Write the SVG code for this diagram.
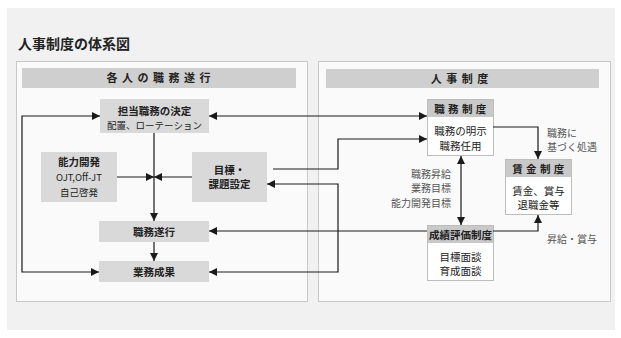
<svg xmlns="http://www.w3.org/2000/svg" width="621" height="338" viewBox="0 0 621 338">
<defs>
<marker id="arr" viewBox="0 0 10 10" refX="10" refY="5" markerWidth="8" markerHeight="9" markerUnits="userSpaceOnUse" orient="auto-start-reverse">
<path d="M0,0 L10,5 L0,10 z" fill="#1a1a1a"/>
</marker>
<style>
text{font-family:"Noto Sans CJK JP","Noto Sans",sans-serif;fill:#222;}
.b{font-weight:bold;}
.t{font-size:10.5px;text-anchor:middle;}
.s{font-size:9.5px;text-anchor:middle;}
.lbl{font-size:10px;fill:#555;}
.node{fill:#d9d9d9;}
.hdr{fill:#cfcfcf;}
.wbody{fill:#fff;stroke:#bdbdbd;stroke-width:1;}
.nhdr{fill:#c9c9c9;}
.ln{fill:none;stroke:#1a1a1a;stroke-width:1.2;}
.panel{fill:#fafafa;stroke:#c8c8c8;stroke-width:1;}
</style>
</defs>
<rect x="0" y="0" width="621" height="338" fill="#fff"/>
<rect x="7" y="8" width="608" height="322" fill="#f1f1f1"/>
<text x="18" y="49" class="b" style="font-size:14px;">人事制度の体系図</text>

<g id="panel-left">
<rect class="panel" x="16.5" y="61.5" width="291" height="240"/>
<rect class="hdr" x="22" y="68" width="274" height="20"/>
<text x="159" y="82" class="b" style="font-size:11px;text-anchor:middle;letter-spacing:1px;">各 人 の 職 務 遂 行</text>
</g>
<g id="panel-right">
<rect class="panel" x="318.5" y="61.5" width="292" height="240"/>
<rect class="hdr" x="326" y="69" width="273" height="19"/>
<text x="460" y="83" class="b" style="font-size:11px;text-anchor:middle;letter-spacing:1px;">人 事 制 度</text>
</g>

<g id="n-tanto">
<rect class="node" x="100" y="99" width="109" height="34"/>
<text x="154.5" y="115" class="t b">担当職務の決定</text>
<text x="154.5" y="128.5" class="s">配置、ローテーション</text>
</g>
<g id="n-noryoku">
<rect class="node" x="41" y="152" width="76" height="50"/>
<text x="79" y="166" class="t b">能力開発</text>
<text x="79" y="181" class="s">OJT,Off-JT</text>
<text x="79" y="196" class="s">自己啓発</text>
</g>
<g id="n-mokuhyo">
<rect class="node" x="192" y="152" width="75" height="50"/>
<text x="229.5" y="174" class="t b">目標・</text>
<text x="229.5" y="188" class="t b">課題設定</text>
</g>
<g id="n-shokumu-suiko">
<rect class="node" x="99" y="221" width="110" height="21"/>
<text x="154" y="235.5" class="t b">職務遂行</text>
</g>
<g id="n-gyomu-seika">
<rect class="node" x="99" y="261" width="110" height="21"/>
<text x="154" y="275.5" class="t b">業務成果</text>
</g>

<g id="n-shokumu-seido">
<rect class="wbody" x="427.5" y="99.5" width="66" height="56"/>
<rect class="nhdr" x="428" y="100" width="65" height="17"/>
<text x="460.5" y="112.5" class="t b" style="letter-spacing:0.5px;">職 務 制 度</text>
<text x="460.5" y="135" class="t">職務の明示</text>
<text x="460.5" y="150" class="t">職務任用</text>
</g>
<g id="n-chingin-seido">
<rect class="wbody" x="505.5" y="159.5" width="66" height="55"/>
<rect class="nhdr" x="506" y="160" width="65" height="17"/>
<text x="538.5" y="172.5" class="t b" style="letter-spacing:0.5px;">賃 金 制 度</text>
<text x="538.5" y="195" class="t">賃金、賞与</text>
<text x="538.5" y="208.5" class="t">退職金等</text>
</g>
<g id="n-seiseki">
<rect class="wbody" x="427.5" y="225.5" width="66" height="55"/>
<rect class="nhdr" x="428" y="226" width="65" height="17"/>
<text x="460.5" y="238.5" class="t b">成績評価制度</text>
<text x="460.5" y="261" class="t">目標面談</text>
<text x="460.5" y="274.5" class="t">育成面談</text>
</g>

<g id="labels">
<text x="547" y="137" class="lbl">職務に</text>
<text x="547" y="151" class="lbl">基づく処遇</text>
<text x="451" y="178" class="lbl" style="text-anchor:end;">職務昇給</text>
<text x="451" y="192" class="lbl" style="text-anchor:end;">業務目標</text>
<text x="451" y="207" class="lbl" style="text-anchor:end;">能力開発目標</text>
<text x="547" y="243" class="lbl">昇給・賞与</text>
</g>

<g id="connectors">
<path class="ln" d="M154,133 V221" marker-end="url(#arr)"/>
<path class="ln" d="M117,177 H154" marker-end="url(#arr)"/>
<path class="ln" d="M192,177 H154" marker-end="url(#arr)"/>
<path class="ln" d="M154,242 V261" marker-end="url(#arr)"/>
<path class="ln" d="M100,116 H22 V272 H99" marker-start="url(#arr)" marker-end="url(#arr)"/>
<path class="ln" d="M209,116 H427" marker-start="url(#arr)" marker-end="url(#arr)"/>
<path class="ln" d="M273,169 H338 V139 H427" marker-end="url(#arr)"/>
<path class="ln" d="M209,272 H338 V184 H267" marker-start="url(#arr)" marker-end="url(#arr)"/>
<path class="ln" d="M427,231 H209" marker-end="url(#arr)"/>
<path class="ln" d="M493,127 H538 V159" marker-end="url(#arr)"/>
<path class="ln" d="M461,156 V225" marker-start="url(#arr)" marker-end="url(#arr)"/>
<path class="ln" d="M493,231 H538 V215" marker-end="url(#arr)"/>
</g>
</svg>
